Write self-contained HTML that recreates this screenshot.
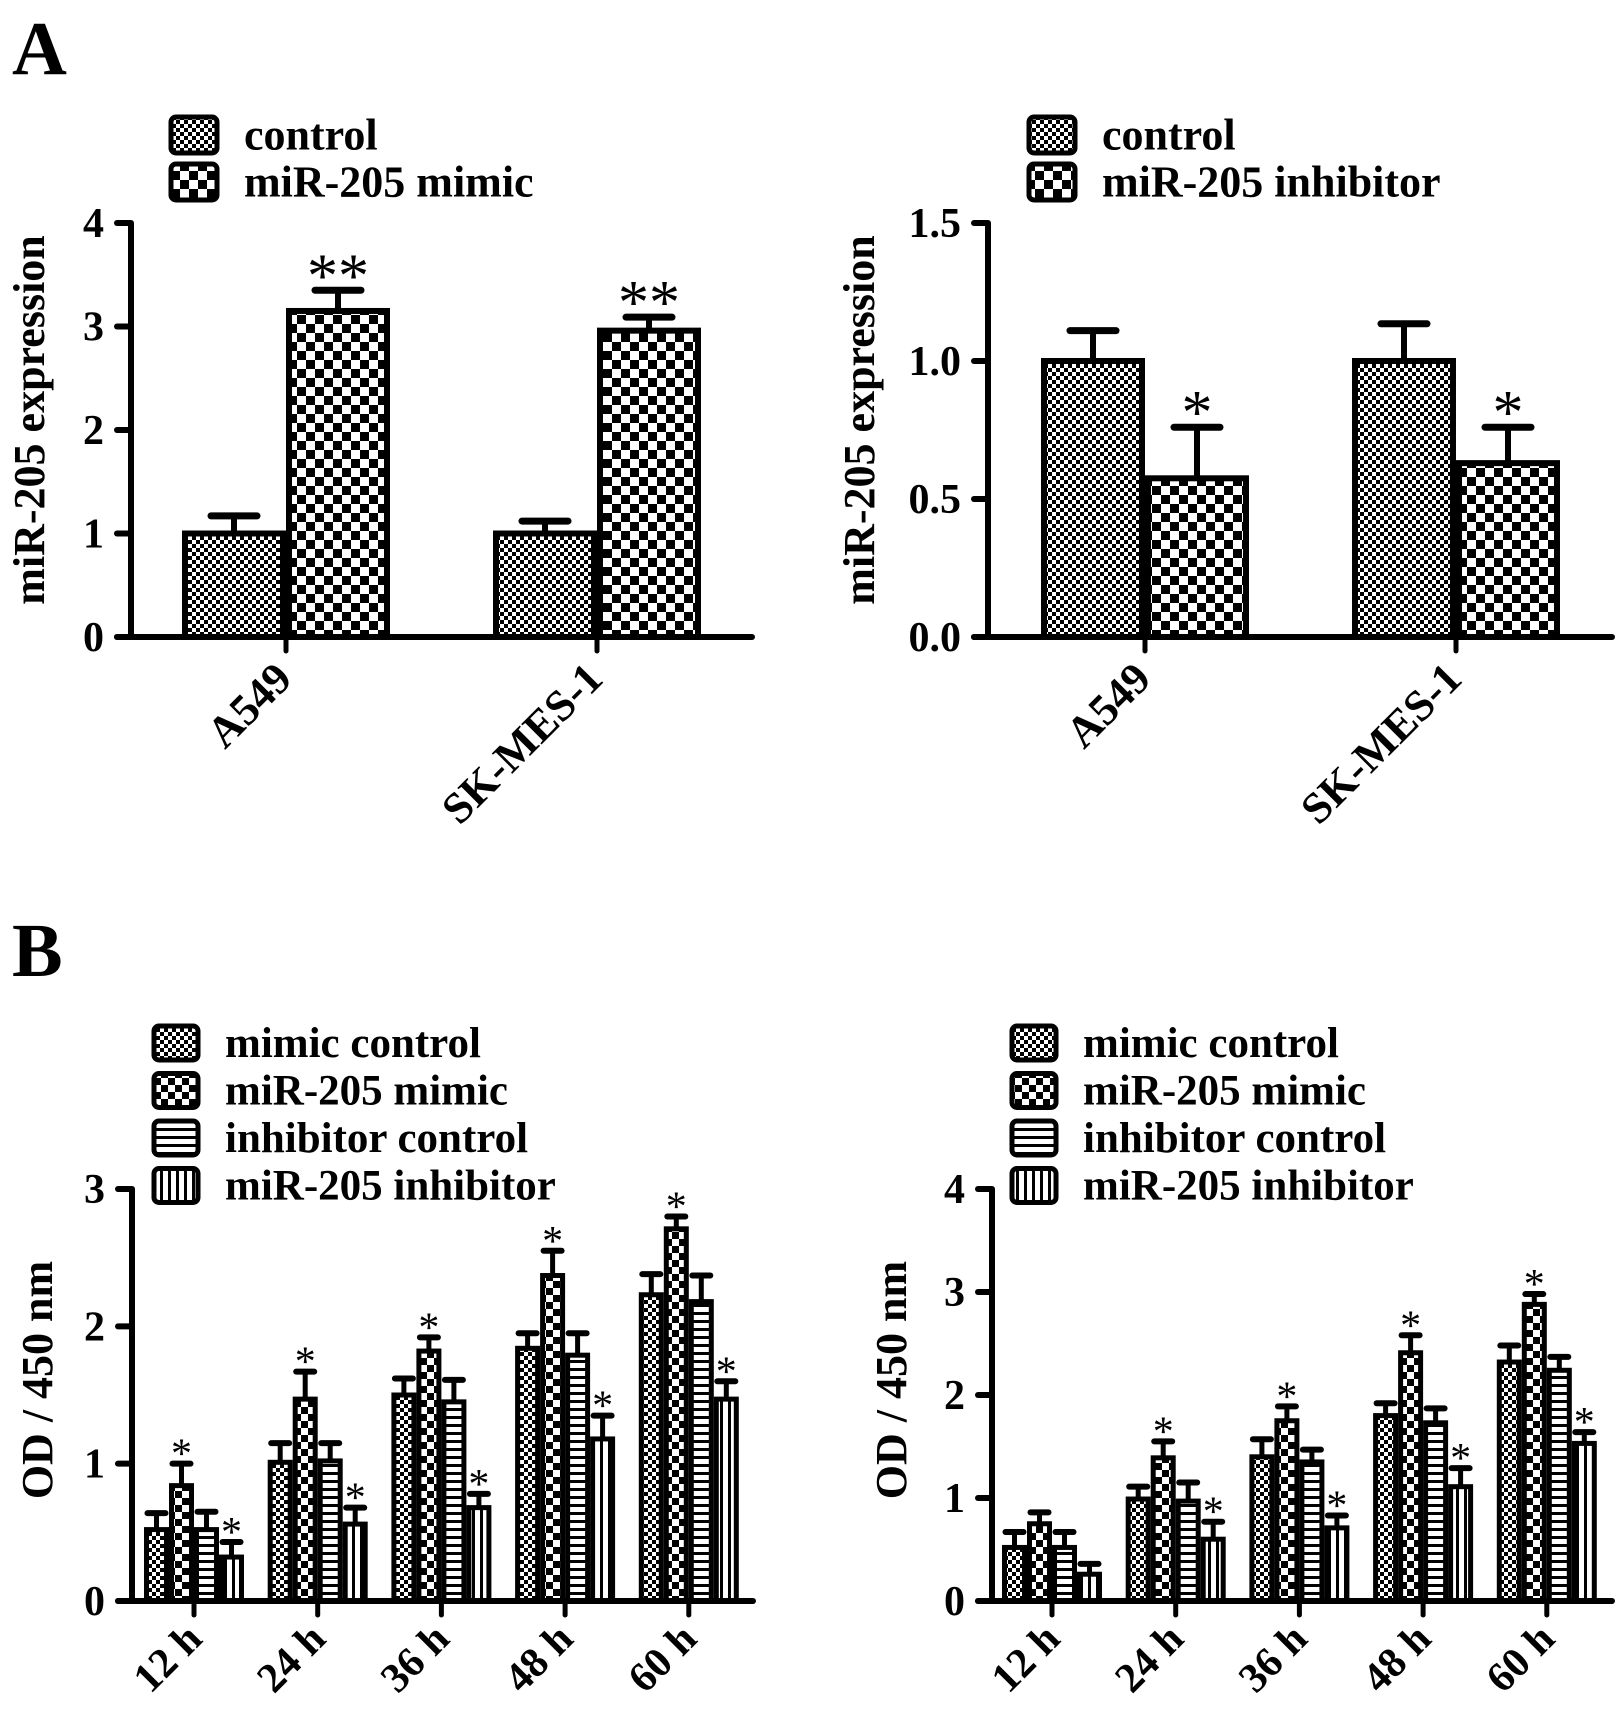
<!DOCTYPE html>
<html><head><meta charset="utf-8"><style>
html,body{margin:0;padding:0;background:#fff;}
svg{display:block;font-family:"Liberation Serif",serif;font-weight:bold;}
</style></head><body>
<svg id="fig" width="1618" height="1719" viewBox="0 0 1618 1719" xmlns="http://www.w3.org/2000/svg">
<defs>
<pattern id="pFine" patternUnits="userSpaceOnUse" width="8" height="8"><rect width="8" height="8" fill="#fff"/><rect width="4" height="4" fill="#000"/><rect x="4" y="4" width="4" height="4" fill="#000"/></pattern>
<pattern id="pCoarseA" patternUnits="userSpaceOnUse" width="18" height="18"><rect width="18" height="18" fill="#fff"/><rect width="9" height="9" fill="#000"/><rect x="9" y="9" width="9" height="9" fill="#000"/></pattern>
<pattern id="pCoarseB" patternUnits="userSpaceOnUse" width="14" height="14"><rect width="14" height="14" fill="#fff"/><rect width="7" height="7" fill="#000"/><rect x="7" y="7" width="7" height="7" fill="#000"/></pattern>
<pattern id="pHoriz" patternUnits="userSpaceOnUse" width="8" height="8"><rect width="8" height="8" fill="#fff"/><rect y="0" width="8" height="3" fill="#000"/></pattern>
<pattern id="pVert" patternUnits="userSpaceOnUse" width="8" height="8"><rect width="8" height="8" fill="#fff"/><rect x="0" width="3" height="8" fill="#000"/></pattern>
</defs>
<text x="12" y="74" font-size="76">A</text>
<text x="12" y="976" font-size="76">B</text>
</svg>
<script>
// ---- Panel A left ----
const aCats = ["A549", "SK-MES-1"];
const aLeftCtrl = [1.0, 1.0];
const aLeftCtrlErr = [0.17, 0.12];
const aLeftMimic = [3.15, 2.96];
const aLeftMimicErr = [0.20, 0.13];
const aLeftStars = [["", "**"], ["", "**"]];
const aLeftTicks = ["0", "1", "2", "3", "4"];
const aLeftTickVals = [0, 1, 2, 3, 4];
// ---- Panel A right ----
const aRightCtrl = [1.0, 1.0];
const aRightCtrlErr = [0.11, 0.135];
const aRightInh = [0.575, 0.63];
const aRightInhErr = [0.185, 0.13];
const aRightStars = [["", "*"], ["", "*"]];
const aRightTicks = ["0.0", "0.5", "1.0", "1.5"];
const aRightTickVals = [0, 0.5, 1.0, 1.5];
// ---- Panel B ----
const bCats = ["12 h", "24 h", "36 h", "48 h", "60 h"];
const bLeftMimicCtrl = [0.52, 1.01, 1.50, 1.84, 2.23];
const bLeftMimicCtrlErr = [0.12, 0.14, 0.12, 0.11, 0.15];
const bLeftMimic = [0.84, 1.47, 1.82, 2.37, 2.71];
const bLeftMimicErr = [0.16, 0.20, 0.10, 0.18, 0.09];
const bLeftInhCtrl = [0.52, 1.02, 1.45, 1.79, 2.18];
const bLeftInhCtrlErr = [0.13, 0.13, 0.16, 0.16, 0.19];
const bLeftInh = [0.32, 0.56, 0.68, 1.18, 1.47];
const bLeftInhErr = [0.11, 0.12, 0.10, 0.17, 0.13];
const bLeftStarMimic = [true, true, true, true, true];
const bLeftStarInh = [true, true, true, true, true];
const bLeftTicks = ["0", "1", "2", "3"];
const bLeftTickVals = [0, 1, 2, 3];
const bRightMimicCtrl = [0.52, 0.99, 1.40, 1.80, 2.32];
const bRightMimicCtrlErr = [0.15, 0.12, 0.17, 0.12, 0.16];
const bRightMimic = [0.75, 1.39, 1.75, 2.41, 2.88];
const bRightMimicErr = [0.11, 0.16, 0.14, 0.17, 0.10];
const bRightInhCtrl = [0.52, 0.97, 1.35, 1.73, 2.24];
const bRightInhCtrlErr = [0.15, 0.18, 0.12, 0.14, 0.13];
const bRightInh = [0.26, 0.60, 0.71, 1.11, 1.53];
const bRightInhErr = [0.10, 0.17, 0.12, 0.18, 0.11];
const bRightStarMimic = [false, true, true, true, true];
const bRightStarInh = [false, true, true, true, true];
const bRightTicks = ["0", "1", "2", "3", "4"];
const bRightTickVals = [0, 1, 2, 3, 4];

const NS = "http://www.w3.org/2000/svg";
const svg = document.getElementById("fig");
function mk(tag, attrs, parent) {
  const e = document.createElementNS(NS, tag);
  for (const k in attrs) e.setAttribute(k, attrs[k]);
  (parent || svg).appendChild(e);
  return e;
}

function drawChart(c) {
  const g = mk("g", {});
  
  
  const y = v => c.y0 - (v / c.max) * (c.y0 - c.yTop);
  c.series.forEach((s, si) => {
    c.cats.forEach((cat, ci) => {
      const gx = c.x0 + c.groupOffset + ci * c.groupStep;
      const bx = gx - c.nSeries * c.barW / 2 + si * c.barW;
      const top = y(s.vals[ci]);
      const et = y(s.vals[ci] + s.err[ci]);
      const cx = bx + c.barW / 2;
      const el = mk("line", {x1: cx, x2: cx, y1: top, y2: et, stroke: "#000", "stroke-width": c.sw}, g);
      
      
      const cap = mk("line", {x1: cx - c.capW / 2, x2: cx + c.capW / 2, y1: et, y2: et, stroke: "#000", "stroke-width": c.sw + 1, "stroke-linecap": "round"}, g);
      
      
      const r = mk("rect", {x: bx + c.sw / 2, y: top, width: c.barW - c.sw, height: c.y0 - top, fill: "url(#" + s.pat + ")", stroke: "#000", "stroke-width": c.sw}, g);
      
      
      const st = s.stars ? s.stars[ci] : "";
      if (st) {
        const t = mk("text", {x: cx, y: et + c.starDy, "text-anchor": "middle", "font-size": c.starSize, "font-weight": "normal"}, g);
        t.textContent = st;
        
        
      }
    });
  });
  const ya = mk("line", {x1: c.x0, x2: c.x0, y1: c.yTop, y2: c.y0 + 2, stroke: "#000", "stroke-width": 6}, g);
  
  
  const xa = mk("line", {x1: c.x0 - 14, x2: c.xEnd, y1: c.y0, y2: c.y0, stroke: "#000", "stroke-width": 6, "stroke-linecap": "round"}, g);
  
  
  c.tickVals.forEach((v, i) => {
    const ty = y(v);
    const tl = mk("line", {x1: c.x0 - 14, x2: c.x0, y1: ty, y2: ty, stroke: "#000", "stroke-width": 6, "stroke-linecap": "round"}, g);
    
    
    const t = mk("text", {x: c.x0 - 27, y: ty + 14, "text-anchor": "end", "font-size": 42}, g);
    t.textContent = c.ticks[i];
    
    
  });
  c.cats.forEach((cat, ci) => {
    const gx = c.x0 + c.groupOffset + ci * c.groupStep;
    const tl = mk("line", {x1: gx, x2: gx, y1: c.y0, y2: c.y0 + 14, stroke: "#000", "stroke-width": 5, "stroke-linecap": "round"}, g);
    
    
    const lx = gx + c.labDx, ly = c.y0 + c.labDy;
    const t = mk("text", {x: lx, y: ly, "text-anchor": "end", "font-size": c.labSize, transform: "rotate(-45 " + lx + " " + ly + ")"}, g);
    t.textContent = cat;
    
    
  });
  const yt = mk("text", {x: c.ylX, y: c.ylY, "text-anchor": "middle", "font-size": c.ylSize, transform: "rotate(-90 " + c.ylX + " " + c.ylY + ")"}, g);
  yt.textContent = c.yLabel;
  
  
  c.legend.forEach((L, i) => {
    const ly = c.legY + i * c.legStep;
    const r = mk("rect", {x: c.legX, y: ly, width: c.legW, height: c.legH, rx: 5, fill: "url(#" + L.pat + ")", stroke: "#000", "stroke-width": 5}, g);
    
    
    const t = mk("text", {x: c.legX + c.legTextDx, y: ly + c.legH / 2 + c.legSize * 0.33, "font-size": c.legSize}, g);
    t.textContent = L.label;
    
    
  });
}

const A = {nSeries: 2, barW: 104, capW: 46, sw: 6, starSize: 62, starDy: 6, max: 4, y0: 637, yTop: 223, groupStep: 311, labSize: 44, labDx: 8, labDy: 44, ylSize: 44, legW: 46, legH: 36, legStep: 47, legSize: 44, legTextDx: 73};
drawChart(Object.assign({}, A, {
  name: "chart-a-left", x0: 131, xEnd: 752, groupOffset: 155, cats: aCats,
  ticks: aLeftTicks, tickVals: aLeftTickVals, yLabel: "miR-205 expression", ylX: 44, ylY: 420,
  series: [
    {key: "control", pat: "pFine", vals: aLeftCtrl, err: aLeftCtrlErr, stars: aLeftStars.map(s => s[0])},
    {key: "mimic", pat: "pCoarseA", vals: aLeftMimic, err: aLeftMimicErr, stars: aLeftStars.map(s => s[1])}
  ],
  legX: 171, legY: 117, legend: [{pat: "pFine", label: "control"}, {pat: "pCoarseA", label: "miR-205 mimic"}]
}));
drawChart(Object.assign({}, A, {
  name: "chart-a-right", x0: 988, xEnd: 1612, groupOffset: 157, max: 1.5, cats: aCats,
  ticks: aRightTicks, tickVals: aRightTickVals, yLabel: "miR-205 expression", ylX: 874, ylY: 420,
  series: [
    {key: "control", pat: "pFine", vals: aRightCtrl, err: aRightCtrlErr, stars: aRightStars.map(s => s[0])},
    {key: "inhibitor", pat: "pCoarseA", vals: aRightInh, err: aRightInhErr, stars: aRightStars.map(s => s[1])}
  ],
  legX: 1029, legY: 117, legend: [{pat: "pFine", label: "control"}, {pat: "pCoarseA", label: "miR-205 inhibitor"}]
}));

const B = {nSeries: 4, barW: 25, capW: 18, sw: 5, starSize: 42, starDy: 4, y0: 1601, yTop: 1189, groupStep: 123.7, labSize: 42, labDx: 10, labDy: 40, ylSize: 44, legW: 44, legH: 34, legStep: 47.5, legSize: 43, legTextDx: 71, cats: bCats};
const starStr = a => a.map(v => v ? "*" : "");
drawChart(Object.assign({}, B, {
  name: "chart-b-left", x0: 132, xEnd: 753, groupOffset: 62, max: 3,
  ticks: bLeftTicks, tickVals: bLeftTickVals, yLabel: "OD / 450 nm", ylX: 52, ylY: 1380,
  series: [
    {key: "mimic-control", pat: "pFine", vals: bLeftMimicCtrl, err: bLeftMimicCtrlErr},
    {key: "mimic", pat: "pCoarseB", vals: bLeftMimic, err: bLeftMimicErr, stars: starStr(bLeftStarMimic)},
    {key: "inhibitor-control", pat: "pHoriz", vals: bLeftInhCtrl, err: bLeftInhCtrlErr},
    {key: "inhibitor", pat: "pVert", vals: bLeftInh, err: bLeftInhErr, stars: starStr(bLeftStarInh)}
  ],
  legX: 154, legY: 1026, legend: [{pat: "pFine", label: "mimic control"}, {pat: "pCoarseB", label: "miR-205 mimic"}, {pat: "pHoriz", label: "inhibitor control"}, {pat: "pVert", label: "miR-205 inhibitor"}]
}));
drawChart(Object.assign({}, B, {
  name: "chart-b-right", x0: 992, xEnd: 1612, groupOffset: 60, max: 4,
  ticks: bRightTicks, tickVals: bRightTickVals, yLabel: "OD / 450 nm", ylX: 906, ylY: 1380,
  series: [
    {key: "mimic-control", pat: "pFine", vals: bRightMimicCtrl, err: bRightMimicCtrlErr},
    {key: "mimic", pat: "pCoarseB", vals: bRightMimic, err: bRightMimicErr, stars: starStr(bRightStarMimic)},
    {key: "inhibitor-control", pat: "pHoriz", vals: bRightInhCtrl, err: bRightInhCtrlErr},
    {key: "inhibitor", pat: "pVert", vals: bRightInh, err: bRightInhErr, stars: starStr(bRightStarInh)}
  ],
  legX: 1012, legY: 1026, legend: [{pat: "pFine", label: "mimic control"}, {pat: "pCoarseB", label: "miR-205 mimic"}, {pat: "pHoriz", label: "inhibitor control"}, {pat: "pVert", label: "miR-205 inhibitor"}]
}));
</script>
</body></html>
